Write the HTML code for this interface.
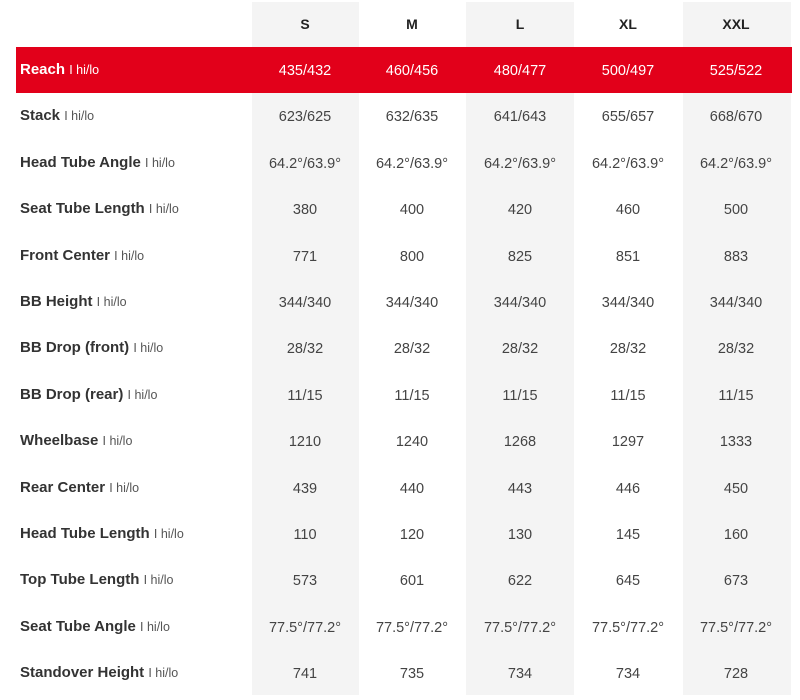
<!DOCTYPE html><html><head><style>
body{margin:0;width:800px;height:700px;background:#fff;position:relative;overflow:hidden;font-family:"Liberation Sans",sans-serif;}
.g{position:absolute;top:2px;height:693px;background:#f4f4f4;}
.red{position:absolute;left:16px;top:47px;width:776px;height:46px;background:#e2001a;}
.t{position:absolute;height:20px;line-height:20px;font-size:14.5px;color:#444;}
.c{text-align:center;width:108px;}
.l{left:20px;font-weight:bold;color:#333;font-size:15px;}
.l span{font-weight:normal;font-size:12.5px;color:#555;}
.h{font-weight:bold;color:#222;font-size:14px;}
.w{color:#fff!important}
.w span{color:#fff!important}
</style></head><body>
<div class="g" style="left:252px;width:107px"></div>
<div class="g" style="left:466px;width:108px"></div>
<div class="g" style="left:683px;width:108px"></div>
<div class="red"></div>
<div id="c"></div>
<script>
var xs=[251,358,466,574,682];
var hd=["S","M","L","XL","XXL"];
var h='';
hd.forEach((s,i)=>h+=`<div class="t c h" style="left:${xs[i]}px;top:14px">${s}</div>`);
var rows=[["Reach",["435/432","460/456","480/477","500/497","525/522"]],
["Stack",["623/625","632/635","641/643","655/657","668/670"]],
["Head Tube Angle",Array(5).fill("64.2°/63.9°")],
["Seat Tube Length",["380","400","420","460","500"]],
["Front Center",["771","800","825","851","883"]],
["BB Height",Array(5).fill("344/340")],
["BB Drop (front)",Array(5).fill("28/32")],
["BB Drop (rear)",Array(5).fill("11/15")],
["Wheelbase",["1210","1240","1268","1297","1333"]],
["Rear Center",["439","440","443","446","450"]],
["Head Tube Length",["110","120","130","145","160"]],
["Top Tube Length",["573","601","622","645","673"]],
["Seat Tube Angle",Array(5).fill("77.5°/77.2°")],
["Standover Height",["741","735","734","734","728"]]];
rows.forEach((r,j)=>{var y=Math.round(60+46.4*j);var w=j==0?' w':'';
h+=`<div class="t l${w}" style="top:${y}px">${r[0]} <span>I hi/lo</span></div>`;
r[1].forEach((v,i)=>h+=`<div class="t c${w}" style="left:${xs[i]}px;top:${y+1}px">${v}</div>`);});
document.getElementById('c').innerHTML=h;
</script>
</body></html>
